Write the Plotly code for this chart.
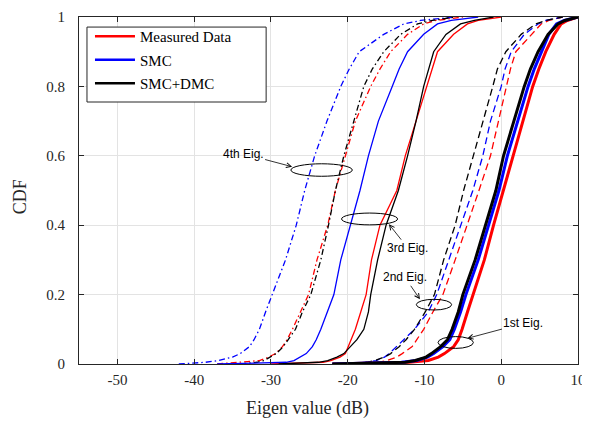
import plotly.graph_objects as go

# CDF levels shared by all curves
cdf_levels = [0, 0.005, 0.01, 0.02, 0.03, 0.05, 0.07, 0.1, 0.15, 0.2, 0.3, 0.4, 0.5,
              0.6, 0.7, 0.8, 0.85, 0.9, 0.95, 0.98, 0.99, 1.0]

# Eigenvalue (dB) at each CDF level
eig1_measured = [-22, -12.0, -9.5, -8.2, -7.4, -6.2, -5.6, -5.1, -4.4, -3.7, -2.2, -1.0, 0.3,
                 1.5, 2.8, 4.1, 4.9, 5.8, 6.9, 7.8, 8.6, 10]
eig1_smc      = [-22, -13.0, -11.0, -9.6, -8.8, -7.6, -6.7, -6.1, -5.3, -4.6, -3.0, -1.6, -0.3,
                 0.8, 2.1, 3.5, 4.3, 5.2, 6.2, 7.2, 8.2, 10]
eig1_smcdmc   = [-22, -12.5, -11.2, -9.8, -9.1, -7.9, -7.0, -6.4, -5.6, -5.0, -3.4, -2.0, -0.7,
                 0.3, 1.6, 3.0, 3.8, 4.8, 6.1, 7.4, 8.3, 10]

eig2_measured = [-19, -16.0, -14.9, -13.6, -12.9, -11.6, -11.0, -10.1, -8.9, -7.6, -6.0, -4.4, -2.9,
                 -1.4, -0.4, 0.6, 1.2, 1.9, 3.9, 5.2, 6.2, 8]
eig2_smc      = [-21, -17.5, -16.3, -15.2, -14.6, -13.6, -12.7, -11.3, -9.5, -8.4, -6.8, -5.2, -3.7,
                 -2.4, -1.4, 0.0, 0.5, 1.3, 3.0, 4.8, 5.8, 8]
eig2_smcdmc   = [-22, -17.5, -16.5, -15.2, -14.4, -13.3, -12.4, -11.3, -9.9, -8.7, -7.5, -6.0, -4.9,
                 -3.6, -2.4, -1.1, -0.5, 0.6, 2.6, 4.5, 5.8, 8]

eig3_measured = [-30, -23.2, -22.2, -21.0, -20.3, -19.9, -19.5, -19.0, -18.3, -17.6, -16.9, -15.8, -13.6,
                 -12.5, -11.1, -9.7, -9.1, -8.3, -6.2, -4.4, -3.0, 0]
eig3_smc      = [-37, -28.0, -27.0, -26.1, -25.4, -24.6, -24.1, -23.5, -22.7, -21.8, -20.9, -19.6, -18.4,
                 -17.3, -16.0, -14.2, -13.3, -12.2, -10.1, -8.3, -6.5, -3]
eig3_smcdmc   = [-29, -23.8, -22.6, -21.4, -20.5, -19.7, -18.8, -17.9, -17.3, -17.0, -16.1, -15.0, -13.4,
                 -12.2, -11.1, -10.1, -9.5, -8.8, -7.2, -5.3, -3.5, -1]

eig4_measured = [-37, -33.5, -31.5, -30.3, -29.4, -28.5, -27.9, -27.2, -26.2, -25.1, -24.0, -22.6, -21.6,
                 -20.3, -19.0, -17.0, -15.8, -14.4, -12.2, -10.1, -8.5, -5]
eig4_smc      = [-42, -38.5, -36.8, -35.0, -34.0, -32.8, -32.2, -31.5, -30.7, -29.8, -28.1, -26.7, -25.6,
                 -24.3, -22.7, -20.9, -19.8, -18.5, -15.3, -12.7, -10.5, -6]
eig4_smcdmc   = [-34, -31.8, -30.9, -30.1, -29.3, -28.4, -27.8, -26.8, -25.9, -24.8, -23.5, -22.5, -21.6,
                 -20.5, -19.2, -17.9, -16.8, -15.3, -13.1, -10.9, -9.0, -6]

series_names = ["Measured Data", "SMC", "SMC+DMC"]
x_ticks = [-50, -40, -30, -20, -10, 0, 10]
x_tick_labels = ["-50", "-40", "-30", "-20", "-10", "0", "10"]
y_ticks = [0, 0.2, 0.4, 0.6, 0.8, 1]
y_tick_labels = ["0", "0.2", "0.4", "0.6", "0.8", "1"]

colors = {"Measured Data": "#ff0000", "SMC": "#0000ff", "SMC+DMC": "#000000"}

groups = [
    ({"Measured Data": eig4_measured, "SMC": eig4_smc, "SMC+DMC": eig4_smcdmc}, "6px,3px,1.5px,3px", 1.3),
    ({"Measured Data": eig3_measured, "SMC": eig3_smc, "SMC+DMC": eig3_smcdmc}, "solid", 1.3),
    ({"Measured Data": eig2_measured, "SMC": eig2_smc, "SMC+DMC": eig2_smcdmc}, "7px,4px", 1.3),
    ({"Measured Data": eig1_measured, "SMC": eig1_smc, "SMC+DMC": eig1_smcdmc}, "solid", 3.0),
]

SERIF = "Liberation Serif"
SANS = "Liberation Sans"

fig = go.Figure()
for data, dash, width in groups:
    for name in series_names:
        fig.add_trace(go.Scatter(
            x=data[name], y=cdf_levels, mode="lines",
            line=dict(color=colors[name], width=width, dash=dash),
            showlegend=False, hoverinfo="skip"))

for name in series_names:
    fig.add_trace(go.Scatter(
        x=[None], y=[None], mode="lines", name=name, legendgroup=name,
        line=dict(color=colors[name], width=2.5)))

# legend frame
fig.add_shape(type="rect", xref="paper", yref="paper", x0=0.016, x1=0.375, y0=0.755, y1=0.971,
              fillcolor="white", line=dict(color="#262626", width=1), layer="above")

# ellipses marking groups
ellipses = [(-23.4, 0.559, 4.0, 0.018), (-17.15, 0.418, 3.65, 0.017),
            (-8.76, 0.171, 2.3, 0.0154), (-5.93, 0.062, 2.3, 0.017)]
for cx, cy, rx, ry in ellipses:
    fig.add_shape(type="circle", xref="x", yref="y",
                  x0=cx - rx, x1=cx + rx, y0=cy - ry, y1=cy + ry,
                  line=dict(color="black", width=1))

labels = [("4th Eig.", -27.24, 0.5686, -49, -13),
          ("3rd Eig.", -14.63, 0.403, 19, 24),
          ("2nd Eig.", -10.59, 0.1865, -15, -22),
          ("1st Eig.", -4.4, 0.074, 56, -15)]
for txt, hx, hy, ax, ay in labels:
    fig.add_annotation(x=hx, y=hy, text=txt, showarrow=True, ax=ax, ay=ay,
                       arrowhead=5, arrowsize=1.2, arrowwidth=0.8, arrowcolor="black",
                       font=dict(family=SANS, size=12, color="black"))

# axis titles
fig.add_annotation(xref="paper", yref="paper", x=0.458, y=-0.127, yanchor="middle",
                   text="Eigen value (dB)", showarrow=False,
                   font=dict(family=SERIF, size=18, color="#262626"))
fig.add_annotation(xref="paper", yref="paper", x=-0.118, y=0.481, xanchor="center",
                   text="CDF", showarrow=False, textangle=-90,
                   font=dict(family=SERIF, size=18, color="#262626"))

axis_font = dict(family=SERIF, size=15, color="#262626")

# page body has an 8px margin, so the figure is drawn 8px smaller and offset
fig.update_layout(
    width=582, height=415,
    margin=dict(l=71, r=12, t=9, b=59),
    plot_bgcolor="white", paper_bgcolor="white",
    showlegend=True,
    legend=dict(x=0.022, y=0.991, xanchor="left", yanchor="top",
                bgcolor="rgba(0,0,0,0)", borderwidth=0,
                font=dict(family=SERIF, size=15, color="black"),
                tracegroupgap=1, itemwidth=40),
    xaxis=dict(range=[-55, 10], tickvals=x_ticks, ticktext=x_tick_labels,
               ticks="inside", ticklen=5, automargin=False,
               tickcolor="#262626", showline=True, linecolor="#262626", linewidth=1,
               mirror="ticks", showgrid=True, gridcolor="#e3e3e3", zeroline=False,
               tickfont=axis_font, ticklabelstandoff=2),
    yaxis=dict(range=[0, 1], tickvals=y_ticks, ticktext=y_tick_labels,
               ticks="inside", ticklen=5, automargin=False,
               tickcolor="#262626", showline=True, linecolor="#262626", linewidth=1,
               mirror="ticks", showgrid=True, gridcolor="#e3e3e3", zeroline=False,
               tickfont=axis_font, ticklabelstandoff=10),
)

fig.write_html("out.html", config={"displayModeBar": False})
